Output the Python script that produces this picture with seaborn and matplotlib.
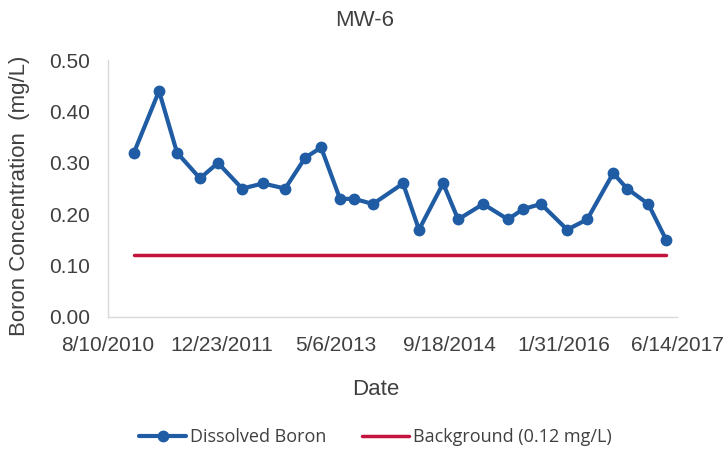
import pandas as pd
import matplotlib.pyplot as plt
import seaborn as sns

# NOTE: Data
dates = ['2010-12-02', '2011-03-22', '2011-06-09', '2011-09-18', '2011-12-06',
         '2012-03-21', '2012-06-21', '2012-09-26', '2012-12-23', '2013-03-03',
         '2013-05-25', '2013-07-26', '2013-10-17', '2014-02-26', '2014-05-07',
         '2014-08-21', '2014-10-26', '2015-02-13', '2015-06-02', '2015-08-07',
         '2015-10-25', '2016-02-17', '2016-05-15', '2016-09-06', '2016-11-06',
         '2017-02-07', '2017-04-27']
boron = [0.32, 0.44, 0.32, 0.27, 0.30, 0.25, 0.26, 0.25, 0.31, 0.33,
         0.23, 0.23, 0.22, 0.26, 0.17, 0.26, 0.19, 0.22, 0.19, 0.21,
         0.22, 0.17, 0.19, 0.28, 0.25, 0.22, 0.15]
background = 0.12
tick_dates = ['2010-08-10', '2011-12-23', '2013-05-06', '2014-09-18', '2016-01-31', '2017-06-14']
tick_labels = ['8/10/2010', '12/23/2011', '5/6/2013', '9/18/2014', '1/31/2016', '6/14/2017']

df = pd.DataFrame({'Date': pd.to_datetime(dates), 'Boron': boron})
df['Background'] = background

sns.set_style('white')
plt.rcParams['font.family'] = ['Liberation Sans', 'DejaVu Sans']

fig = plt.figure(figsize=(7.25, 4.49), dpi=100)
ax = fig.add_axes([0.149, 0.294, 0.785, 0.572])

sns.lineplot(data=df, x='Date', y='Background', color='#c3143d', linewidth=2.5,
             label='Background (0.12 mg/L)', ax=ax)
sns.lineplot(data=df, x='Date', y='Boron', color='#1f5ca3', linewidth=3,
             marker='o', markersize=8.5, markeredgewidth=0,
             label='Dissolved Boron', ax=ax)

ax.set_xlim(pd.Timestamp('2010-08-10'), pd.Timestamp('2017-06-14'))
ax.set_ylim(0, 0.5)
ax.set_yticks([0, 0.1, 0.2, 0.3, 0.4, 0.5])
ax.set_yticklabels(['0.00', '0.10', '0.20', '0.30', '0.40', '0.50'])
ax.set_xticks(pd.to_datetime(tick_dates))
ax.set_xticklabels(tick_labels)
ax.tick_params(labelsize=15, colors='#404040', length=0)
ax.tick_params(axis='x', pad=14)
ax.tick_params(axis='y', pad=13)

for s in ['top', 'right']:
    ax.spines[s].set_visible(False)
for s in ['left', 'bottom']:
    ax.spines[s].set_color('#d9d9d9')
    ax.spines[s].set_linewidth(1)

ax.set_title('MW-6', fontsize=16, color='#404040', y=1.10)
ax.title.set_x(0.45)
ax.set_xlabel('Date', fontsize=16, color='#404040')
ax.xaxis.set_label_coords(0.47, -0.24)
ax.set_ylabel('Boron Concentration  (mg/L)', fontsize=16, color='#404040')
ax.yaxis.set_label_coords(-0.137, 0.47)

handles, labels = ax.get_legend_handles_labels()
leg = ax.legend(handles[::-1], labels[::-1], loc='center', bbox_to_anchor=(0.47, -0.467),
                ncol=2, frameon=False, fontsize=13, handlelength=2.6, columnspacing=2.0,
                handletextpad=0.2)
for t in leg.get_texts():
    t.set_color('#404040')
    t.set_family(['Open Sans', 'DejaVu Sans'])

plt.savefig('out.png', dpi=100)
